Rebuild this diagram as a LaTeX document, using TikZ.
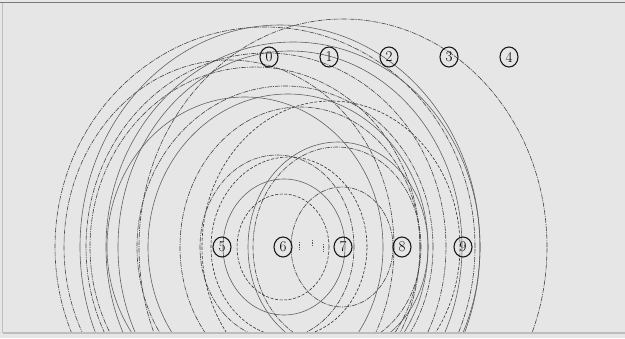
\documentclass[tikz,border=0pt]{standalone}
\usetikzlibrary{shapes.geometric}
\definecolor{bg}{HTML}{E6E6E6}
\definecolor{frameA}{HTML}{7A7A7A}
\definecolor{frameB}{HTML}{BDBDBD}
\tikzset{
  vtx/.style={draw=black!90, line width=1.1pt, ellipse, inner sep=0pt,
              minimum width=18pt, minimum height=20pt, font=\fontsize{15}{15}\selectfont},
  dd/.style={draw=black!72, line width=0.6pt, dash pattern=on 5pt off 1pt on 1pt off 1pt},
  ds/.style={draw=black!80, line width=0.6pt, dash pattern=on 3pt off 1.6pt},
  sl/.style={draw=black!62, line width=0.6pt},
  dt/.style={draw=black!65, line width=0.6pt, dash pattern=on 1.2pt off 1.2pt}
}
\begin{document}
\begin{tikzpicture}[x=1pt,y=-1pt]
\useasboundingbox (0,0) rectangle (625,338);
\fill[bg] (0,0) rectangle (625,338);
\begin{scope}
\clip (3,4) rectangle (625,332);
% small ellipses
\draw[ds] (283,247) ellipse [x radius=46pt, y radius=53pt];
\draw[dd] (342,247) ellipse [x radius=51pt, y radius=60pt];
\draw[sl] (284,247) ellipse [x radius=61pt, y radius=68pt];
\draw[dd] (277,247) ellipse [x radius=77pt, y radius=92pt];
\draw[sl] (338,247) ellipse [x radius=90pt, y radius=105pt];
\draw[dd] (337,247) ellipse [x radius=84pt, y radius=100pt];
\draw[ds] (331,247) ellipse [x radius=129pt, y radius=146pt];
% medium and large
\draw[sl] (288,247) ellipse [x radius=140pt, y radius=153pt];
\draw[dd] (285,247) ellipse [x radius=148pt, y radius=161pt];
\draw[dd] (255,247) ellipse [x radius=165pt, y radius=180pt];
\draw[sl] (290,247) ellipse [x radius=172pt, y radius=196pt];
\draw[dd] (229,247) ellipse [x radius=165pt, y radius=187pt];
\draw[dd] (265,247) ellipse [x radius=210pt, y radius=220pt];
\draw[dd] (343,247) ellipse [x radius=204pt, y radius=228pt];
\draw[sl] (293,247) ellipse [x radius=187pt, y radius=205pt];
\draw[dd] (266,247) ellipse [x radius=180pt, y radius=194pt];
\draw[ds] (289,247) ellipse [x radius=78pt, y radius=90pt];
\draw[sl] (280,247) ellipse [x radius=200pt, y radius=222pt];
\draw[dd] (300,247) ellipse [x radius=120pt, y radius=140pt];
\draw[sl] (245,247) ellipse [x radius=138pt, y radius=150pt];
\end{scope}
% tiny dotted marks between 6 and 7
\draw[dt] (299,242) -- (299,251);
\draw[dt] (312,240) -- (312,246);
\draw[dt] (323,244) -- (323,252);
% frame
\draw[frameA, line width=1.6pt] (0,2.5) -- (625,2.5);
\draw[frameB, line width=1.2pt] (2.5,2.5) -- (2.5,333);
\draw[frameB, line width=1.4pt] (2.5,333) -- (625,333);
% nodes
\node[vtx] (n0) at (269,57) {0};
\node[vtx] (n1) at (329,57) {1};
\node[vtx] (n2) at (389,57) {2};
\node[vtx] (n3) at (449,57) {3};
\node[vtx] (n4) at (509,57) {4};
\node[vtx] (n5) at (222,247) {5};
\node[vtx] (n6) at (283,247) {6};
\node[vtx] (n7) at (343,247) {7};
\node[vtx] (n8) at (402,247) {8};
\node[vtx] (n9) at (463,247) {9};
\end{tikzpicture}
\end{document}
